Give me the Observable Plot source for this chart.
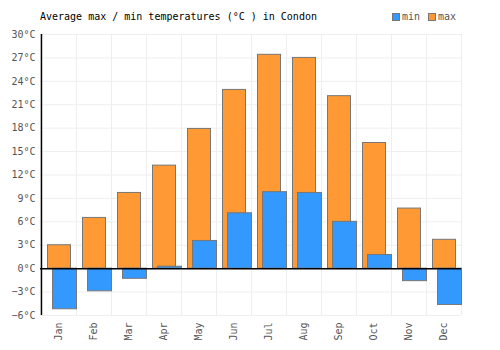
<!DOCTYPE html>
<html>
<head>
<meta charset="utf-8">
<script src="https://cdn.jsdelivr.net/npm/d3@7"></script>
<script src="https://cdn.jsdelivr.net/npm/@observablehq/plot@0.6"></script>
<style>
  body { margin: 0; background: #fff; font-family: "DejaVu Sans Mono", monospace; }
  #wrap { width: 500px; height: 350px; position: relative; }
  #head { height: 24px; position: relative; font-size: 10px; }
  #title { position: absolute; left: 40px; top: 11px; color: #000; }
  #legend { position: absolute; left: 392px; top: 11px; color: #555; display: flex; align-items: center; }
  .sw { display: inline-block; width: 6px; height: 6px; border: 1px solid #777; margin-right: 2px; }
  .item { display: flex; align-items: center; margin-right: 8px; }
</style>
</head>
<body>
<div id="wrap">
  <div id="head">
    <div id="title">Average max / min temperatures (°C ) in Condon</div>
    <div id="legend"></div>
  </div>
  <div id="chart"></div>
</div>
<script>
const months = ["Jan","Feb","Mar","Apr","May","Jun","Jul","Aug","Sep","Oct","Nov","Dec"];
const maxTemps = [3.0, 6.5, 9.7, 13.2, 17.9, 22.9, 27.4, 27.0, 22.1, 16.1, 7.7, 3.7];
const minTemps = [-5.2, -2.9, -1.3, 0.25, 3.55, 7.1, 9.8, 9.7, 6.0, 1.75, -1.6, -4.65];
const yTicks = [-6, -3, 0, 3, 6, 9, 12, 15, 18, 21, 24, 27, 30];
const seriesNames = ["min", "max"];
const seriesColors = ["#3399ff", "#ff9933"];

const data = months.map((m, i) => ({month: m, max: maxTemps[i], min: minTemps[i]}));

const W = 500, H = 326, mL = 40, mR = 39, mT = 10, mB = 35;
const bw = (W - mL - mR) / months.length;

const chart = Plot.plot({
  width: W,
  height: H,
  marginLeft: mL,
  marginRight: mR,
  marginTop: mT,
  marginBottom: mB,
  style: {fontFamily: "'DejaVu Sans Mono', monospace", fontSize: "10px", color: "#555", background: "#fff"},
  x: {type: "band", domain: months, padding: 0},
  y: {domain: [-6, 30]},
  marks: [
    Plot.ruleY(yTicks, {stroke: "#eeeeee", strokeWidth: 1}),
    Plot.ruleX(months, {x: d => d, dx: bw / 2, stroke: "#eeeeee", strokeWidth: 1, y1: -6, y2: 30}),
    Plot.barY(data, {x: "month", y: "max", fill: seriesColors[1], stroke: "#777", strokeWidth: 1, insetLeft: 6.5, insetRight: 5.5}),
    Plot.barY(data, {x: "month", y: "min", fill: seriesColors[0], stroke: "#777", strokeWidth: 1, insetLeft: 11.5, insetRight: -0.5}),
    Plot.ruleY([0], {stroke: "#000", strokeWidth: 1.5}),
    Plot.ruleX([months[0]], {x: d => d, dx: -bw / 2, stroke: "#000", strokeWidth: 1.5, y1: -6, y2: 30}),
    Plot.axisY({ticks: yTicks, tickFormat: d => (d < 0 ? "\u2212" + Math.abs(d) : d) + "°C", tickSize: 0, tickPadding: 5, fill: "#555", label: null}),
    Plot.axisX({tickRotate: -90, tickSize: 0, tickPadding: 7, fill: "#555", label: null})
  ]
});
document.getElementById("chart").appendChild(chart);

const legend = document.getElementById("legend");
seriesNames.forEach((n, i) => {
  const it = document.createElement("div");
  it.className = "item";
  const sw = document.createElement("span");
  sw.className = "sw";
  sw.style.background = seriesColors[i];
  it.appendChild(sw);
  it.appendChild(document.createTextNode(n));
  legend.appendChild(it);
});
</script>
</body>
</html>
